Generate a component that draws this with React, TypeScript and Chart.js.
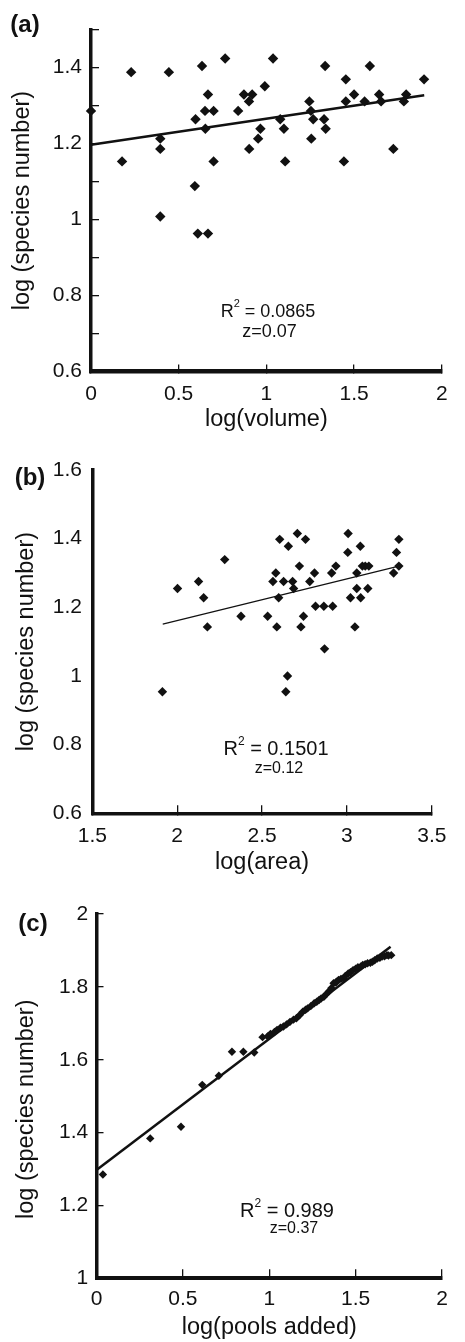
import React, { useEffect, useRef } from 'react';
import { Chart, registerables } from 'chart.js';

Chart.register(...registerables);

const FONT = '"Liberation Sans", Arial, Helvetica, sans-serif';
const INK = '#111111';

// ---------- Panel (a): log(volume) vs log(species number) ----------
const A_VOLUME = [
  0, 0.177, 0.229, 0.395, 0.395, 0.444, 0.592, 0.596, 0.633, 0.65,
  0.652, 0.667, 0.699, 0.699, 0.765, 0.839, 0.872, 0.901, 0.919, 0.902,
  0.953, 0.966, 0.991, 1.038, 1.079, 1.1, 1.107, 1.245, 1.254, 1.256,
  1.267, 1.329, 1.338, 1.335, 1.442, 1.453, 1.453, 1.5, 1.56, 1.59,
  1.643, 1.654, 1.724, 1.784, 1.797, 1.899, 0.395, 0.609, 0.667,
];
const A_SPECIES = [
  1.286, 1.153, 1.388, 1.213, 1.186, 1.388, 1.088, 1.264, 1.404, 1.286,
  1.239, 1.329, 1.286, 1.153, 1.424, 1.286, 1.329, 1.311, 1.329, 1.186,
  1.213, 1.239, 1.351, 1.424, 1.264, 1.239, 1.153, 1.311, 1.286, 1.213,
  1.264, 1.264, 1.239, 1.404, 1.153, 1.369, 1.311, 1.329, 1.311, 1.404,
  1.329, 1.311, 1.186, 1.311, 1.329, 1.369, 1.008, 0.963, 0.963,
];
const A_FIT_X = [0, 1.9];
const A_FIT_Y = [1.197, 1.327];
const A_X_AXIS = [0, 2, 0.5]; // min, max, step
const A_Y_AXIS = [0.6, 1.5, 0.1];
const A_R2 = '0.0865';
const A_Z = 'z=0.07';

// ---------- Panel (b): log(area) vs log(species number) ----------
const B_AREA = [
  2.002, 2.126, 2.156, 2.178, 2.28, 2.376, 2.533, 2.564, 2.581, 2.587,
  2.598, 2.604, 2.627, 2.655, 2.68, 2.686, 2.708, 2.72, 2.729, 2.744,
  2.756, 2.781, 2.809, 2.815, 2.864, 2.868, 2.91, 2.916, 2.935, 3.007,
  3.005, 3.021, 3.058, 3.047, 3.058, 3.079, 3.081, 3.091, 3.108, 3.129,
  3.123, 3.275, 3.292, 3.306, 3.306, 1.913, 2.65, 2.64,
];
const B_SPECIES = [
  1.255, 1.275, 1.228, 1.143, 1.339, 1.174, 1.174, 1.275, 1.3, 1.143,
  1.228, 1.398, 1.275, 1.378, 1.275, 1.255, 1.415, 1.32, 1.143, 1.174,
  1.398, 1.275, 1.3, 1.203, 1.203, 1.079, 1.3, 1.203, 1.32, 1.415,
  1.36, 1.228, 1.3, 1.143, 1.255, 1.378, 1.228, 1.32, 1.32, 1.32,
  1.255, 1.3, 1.36, 1.398, 1.32, 0.954, 1.0, 0.954,
];
const B_FIT_X = [1.915, 3.306];
const B_FIT_Y = [1.151, 1.32];
const B_X_AXIS = [1.5, 3.5, 0.5];
const B_Y_AXIS = [0.6, 1.6, 0.2];
const B_R2 = '0.1501';
const B_Z = 'z=0.12';

// ---------- Panel (c): log(pools added) vs log(species number) ----------
const C_POOLS = [
  0.037, 0.311, 0.489, 0.612, 0.708, 0.784, 0.85, 0.913, 0.961, 0.99,
  1.007, 1.03, 1.045, 1.065, 1.082, 1.1, 1.12, 1.14, 1.157, 1.175,
  1.194, 1.21, 1.222, 1.24, 1.26, 1.275, 1.288, 1.3, 1.316, 1.33,
  1.344, 1.355, 1.36, 1.372, 1.385, 1.39, 1.401, 1.415, 1.429, 1.44,
  1.457, 1.47, 1.485, 1.5, 1.513, 1.53, 1.541, 1.555, 1.569, 1.585,
  1.597, 1.61, 1.625, 1.64, 1.653, 1.667, 1.681, 1.69, 1.706,
];
const C_SPECIES = [
  1.285, 1.384, 1.416, 1.531, 1.556, 1.622, 1.622, 1.62, 1.662, 1.664,
  1.671, 1.676, 1.682, 1.688, 1.691, 1.697, 1.704, 1.71, 1.714, 1.722,
  1.732, 1.737, 1.741, 1.747, 1.755, 1.759, 1.764, 1.768, 1.773, 1.78,
  1.787, 1.792, 1.797, 1.81, 1.812, 1.814, 1.819, 1.822, 1.823, 1.83,
  1.837, 1.84, 1.846, 1.85, 1.854, 1.856, 1.86, 1.862, 1.865, 1.866,
  1.869, 1.873, 1.878, 1.88, 1.883, 1.884, 1.887, 1.886, 1.887,
];
const C_FIT_X = [0, 1.702];
const C_FIT_Y = [1.297, 1.91];
const C_X_AXIS = [0, 2, 0.5];
const C_Y_AXIS = [1, 2, 0.2];
const C_R2 = '0.989';
const C_Z = 'z=0.37';

type PanelCfg = {
  top: number;
  height: number;
  xs: number[];
  ys: number[];
  fitX: number[];
  fitY: number[];
  xAxis: number[];
  yAxis: number[];
  xTitle: string;
  yTitle: string;
  label: string;
  labelPos: [number, number];
  r2: string;
  z: string;
  r2Pos: [number, number];
  zPos: [number, number];
  r2Size: number;
  zSize: number;
  pointR: number;
  fitWidth: number;
  padTop: number;
  padRight: number;
  yAxisW: number;
  xAxisH: number;
  yTickLen: number;
  xTickLen: number;
  yTickPad: number;
  xTickPad: number;
  yBorder: number;
  xBorder: number;
  xTitlePad: number;
  yTitlePad: number;
  yEvenOnly: boolean;
};

const fmt = (v: number) => String(Math.round(v * 100) / 100);

function buildConfig(p: PanelCfg): any {
  const textPlugin = {
    id: 'panelText',
    afterDraw(chart: any) {
      const ctx = chart.ctx as CanvasRenderingContext2D;
      ctx.save();
      ctx.fillStyle = INK;
      ctx.font = `bold 24px ${FONT}`;
      ctx.textAlign = 'center';
      ctx.textBaseline = 'middle';
      ctx.fillText(p.label, p.labelPos[0], p.labelPos[1]);

      // R^2 line with superscript
      ctx.textAlign = 'left';
      ctx.textBaseline = 'alphabetic';
      const s = p.r2Size;
      const supS = Math.round(s * 0.62);
      const rest = ' = ' + p.r2;
      ctx.font = `${s}px ${FONT}`;
      const w1 = ctx.measureText('R').width;
      const w3 = ctx.measureText(rest).width;
      ctx.font = `${supS}px ${FONT}`;
      const w2 = ctx.measureText('2').width;
      let x = p.r2Pos[0] - (w1 + w2 + w3) / 2;
      const by = p.r2Pos[1];
      ctx.font = `${s}px ${FONT}`;
      ctx.fillText('R', x, by);
      x += w1;
      ctx.font = `${supS}px ${FONT}`;
      ctx.fillText('2', x, by - s * 0.52);
      x += w2;
      ctx.font = `${s}px ${FONT}`;
      ctx.fillText(rest, x, by);

      ctx.font = `${p.zSize}px ${FONT}`;
      ctx.textAlign = 'center';
      ctx.fillText(p.z, p.zPos[0], p.zPos[1]);
      ctx.restore();
    },
  };

  const tickFont = { family: FONT, size: 21, lineHeight: 1.2 };
  const titleFont = { family: FONT, size: 23.5, lineHeight: 1.2 };

  return {
    type: 'scatter',
    data: {
      datasets: [
        {
          type: 'line',
          data: p.fitX.map((x, i) => ({ x, y: p.fitY[i] })),
          borderColor: INK,
          backgroundColor: INK,
          borderWidth: p.fitWidth,
          pointRadius: 0,
          pointHoverRadius: 0,
          fill: false,
          tension: 0,
          order: 2,
          clip: false,
        },
        {
          data: p.xs.map((x, i) => ({ x, y: p.ys[i] })),
          pointStyle: 'rectRot',
          pointRadius: p.pointR,
          pointHoverRadius: p.pointR,
          backgroundColor: INK,
          borderColor: INK,
          borderWidth: 0,
          order: 1,
          clip: false,
        },
      ],
    },
    options: {
      responsive: false,
      animation: false,
      devicePixelRatio: 1,
      events: [],
      layout: { padding: { top: p.padTop, right: p.padRight, left: 0, bottom: 0 } },
      plugins: {
        legend: { display: false },
        tooltip: { enabled: false },
      },
      scales: {
        x: {
          type: 'linear',
          position: 'bottom',
          min: p.xAxis[0],
          max: p.xAxis[1],
          ticks: {
            stepSize: p.xAxis[2],
            padding: p.xTickPad,
            font: tickFont,
            color: INK,
            maxRotation: 0,
            autoSkip: false,
            callback: (v: number) => fmt(v),
          },
          grid: {
            drawOnChartArea: false,
            drawTicks: p.xTickLen > 0,
            tickLength: -p.xTickLen,
            color: INK,
            lineWidth: 1.3,
          },
          border: { display: true, color: INK, width: p.xBorder },
          title: {
            display: true,
            text: p.xTitle,
            font: titleFont,
            color: INK,
            padding: { top: 0, bottom: p.xTitlePad },
          },
          afterFit: (scale: any) => {
            scale.height = p.xAxisH;
          },
        },
        y: {
          type: 'linear',
          position: 'left',
          min: p.yAxis[0],
          max: p.yAxis[1],
          ticks: {
            stepSize: p.yAxis[2],
            padding: p.yTickPad,
            font: tickFont,
            color: INK,
            autoSkip: false,
            callback: (v: number) => {
              if (p.yEvenOnly && Math.round(v * 10) % 2 !== 0) return '';
              return fmt(v);
            },
          },
          grid: {
            drawOnChartArea: false,
            drawTicks: p.yTickLen > 0,
            tickLength: -p.yTickLen,
            color: INK,
            lineWidth: 1.3,
          },
          border: { display: true, color: INK, width: p.yBorder },
          title: {
            display: true,
            text: p.yTitle,
            font: titleFont,
            color: INK,
            padding: { top: p.yTitlePad, bottom: 0 },
          },
          afterFit: (scale: any) => {
            scale.width = p.yAxisW;
          },
        },
      },
    },
    plugins: [textPlugin],
  };
}

const PANELS: PanelCfg[] = [
  {
    top: 0,
    height: 440,
    xs: A_VOLUME,
    ys: A_SPECIES,
    fitX: A_FIT_X,
    fitY: A_FIT_Y,
    xAxis: A_X_AXIS,
    yAxis: A_Y_AXIS,
    xTitle: 'log(volume)',
    yTitle: 'log (species number)',
    label: '(a)',
    labelPos: [25, 25],
    r2: A_R2,
    z: A_Z,
    r2Pos: [268, 316.7],
    zPos: [269.5, 336.7],
    r2Size: 18,
    zSize: 18,
    pointR: 5.2,
    fitWidth: 2.6,
    padTop: 15,
    padRight: 19.3,
    yAxisW: 91,
    xAxisH: 68.5,
    yTickLen: 8,
    xTickLen: 7,
    yTickPad: 17,
    xTickPad: 17.4,
    yBorder: 3.5,
    xBorder: 4.5,
    xTitlePad: 5.9,
    yTitlePad: 8,
    yEvenOnly: true,
  },
  {
    top: 440,
    height: 440,
    xs: B_AREA,
    ys: B_SPECIES,
    fitX: B_FIT_X,
    fitY: B_FIT_Y,
    xAxis: B_X_AXIS,
    yAxis: B_Y_AXIS,
    xTitle: 'log(area)',
    yTitle: 'log (species number)',
    label: '(b)',
    labelPos: [30, 38],
    r2: B_R2,
    z: B_Z,
    r2Pos: [276, 315],
    zPos: [279, 332.7],
    r2Size: 20,
    zSize: 16,
    pointR: 4.7,
    fitWidth: 1.2,
    padTop: 30,
    padRight: 22.3,
    yAxisW: 92.3,
    xAxisH: 66.7,
    yTickLen: 0,
    xTickLen: 8,
    yTickPad: 10.3,
    xTickPad: 18.6,
    yBorder: 3.5,
    xBorder: 3.5,
    xTitlePad: 3.3,
    yTitlePad: 12.7,
    yEvenOnly: false,
  },
  {
    top: 880,
    height: 462,
    xs: C_POOLS,
    ys: C_SPECIES,
    fitX: C_FIT_X,
    fitY: C_FIT_Y,
    xAxis: C_X_AXIS,
    yAxis: C_Y_AXIS,
    xTitle: 'log(pools added)',
    yTitle: 'log (species number)    ',
    label: '(c)',
    labelPos: [33, 44],
    r2: C_R2,
    z: C_Z,
    r2Pos: [287, 337],
    zPos: [294, 352.7],
    r2Size: 20,
    zSize: 16,
    pointR: 4.2,
    fitWidth: 2.5,
    padTop: 34,
    padRight: 13.3,
    yAxisW: 96.5,
    xAxisH: 63.7,
    yTickLen: 7,
    xTickLen: 9,
    yTickPad: 15.2,
    xTickPad: 17.1,
    yBorder: 3.5,
    xBorder: 4,
    xTitlePad: 0.3,
    yTitlePad: 12.7,
    yEvenOnly: false,
  },
];

function Panel({ cfg }: { cfg: PanelCfg }) {
  const ref = useRef<HTMLCanvasElement>(null);
  useEffect(() => {
    if (!ref.current) return;
    const chart = new Chart(ref.current, buildConfig(cfg));
    return () => chart.destroy();
  }, [cfg]);
  return (
    <div style={{ position: 'absolute', left: 0, top: cfg.top, width: 465, height: cfg.height }}>
      <canvas
        ref={ref}
        width={465}
        height={cfg.height}
        style={{ display: 'block', width: 465, height: cfg.height }}
      />
    </div>
  );
}

export default function App() {
  return (
    <div style={{ position: 'absolute', left: 0, top: 0, width: 465, height: 1342, background: '#fff' }}>
      {PANELS.map((p, i) => (
        <Panel key={i} cfg={p} />
      ))}
    </div>
  );
}
